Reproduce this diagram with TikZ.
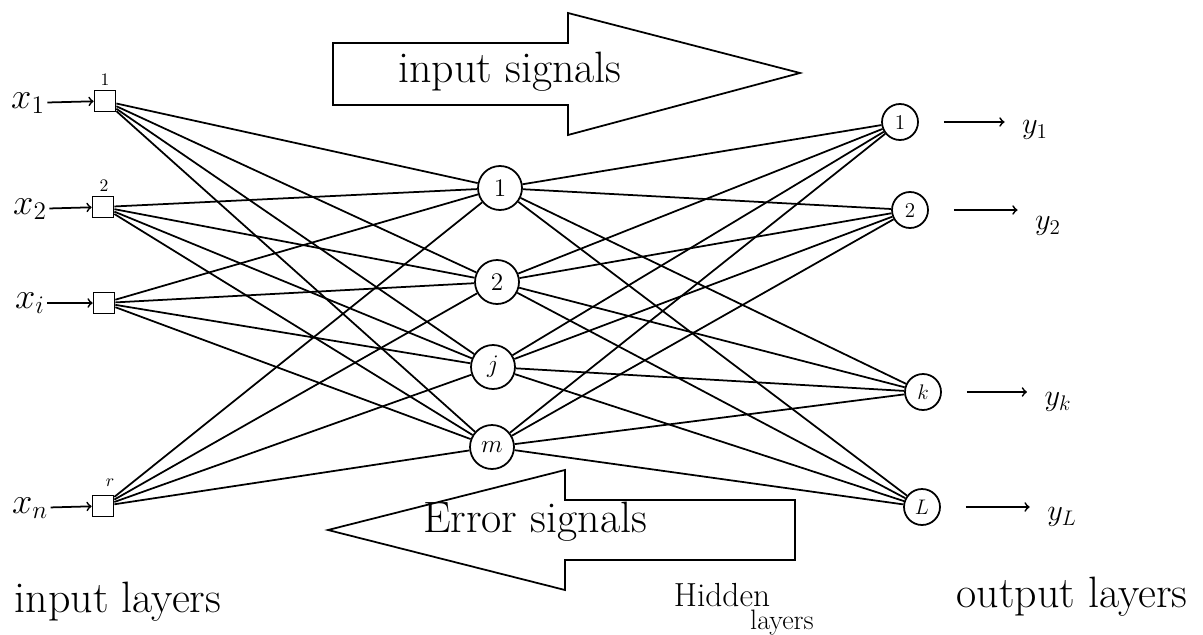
\documentclass[tikz,border=0pt]{standalone}
\usepackage{amsmath}
\usepackage{amssymb}
\usepackage{fontspec}
\usepackage{tikz}

\begin{document}
\begin{tikzpicture}[x=0.02cm, y=-0.02cm, line width=1pt,
  hid/.style={circle, draw, minimum size=8.8mm, inner sep=0pt, font=\Large},
  outn/.style={circle, draw, minimum size=7.2mm, inner sep=0pt, font=\large},
  inbox/.style={rectangle, draw, minimum size=4.2mm, inner sep=0pt},
  lbl/.style={inner sep=1pt, font=\LARGE},
  big/.style={inner sep=1pt, font=\fontsize{25}{30}\selectfont},
  outarr/.style={->, shorten <=5mm, shorten >=3mm}]
  \useasboundingbox (0,0) rectangle (1203,635);

  % big arrows
  \draw (333,43) -- (568,43) -- (568,13) -- (800,73) -- (568,135) -- (568,105) -- (333,105) -- cycle;
  \draw (795,500) -- (565,500) -- (565,470) -- (328,530) -- (565,590) -- (565,560) -- (795,560) -- cycle;
  \node[big] (sigin) at (510,72) {input signals};
  \node[big] (sigerr) at (535,522) {Error signals};

  \node[inbox] (i1) at (105,101) {};
  \node[inbox] (i2) at (103,207) {};
  \node[inbox] (ii) at (104,303) {};
  \node[inbox] (ir) at (103,506) {};
  \node[lbl, font=\huge] (x1) at (28,103) {$x_1$};
  \node[lbl, font=\huge] (x2) at (30,209) {$x_2$};
  \node[lbl, font=\huge] (xi) at (30,303) {$x_i$};
  \node[lbl, font=\huge] (xn) at (30,508) {$x_n$};
  \node[lbl, font=\normalsize] (s1) at (105,80) {1};
  \node[lbl, font=\normalsize] (s2) at (104,186) {2};
  \node[lbl, font=\normalsize] (sr) at (110,483) {$r$};

  \node[hid] (h1) at (500,188) {1};
  \node[hid] (h2) at (497,282) {2};
  \node[hid] (hj) at (493,367) {$j$};
  \node[hid] (hm) at (492,447) {$m$};

  \node[outn] (o1) at (900,122) {1};
  \node[outn] (o2) at (910,210) {2};
  \node[outn] (ok) at (923,392) {$k$};
  \node[outn] (oL) at (922,507) {$L$};
  \node[lbl] (y1) at (1035,130) {$y_1$};
  \node[lbl] (y2) at (1048,226) {$y_2$};
  \node[lbl] (yk) at (1058,402) {$y_k$};
  \node[lbl] (yL) at (1062,517) {$y_L$};

  \draw[->] (x1) -- (i1); \draw[->] (x2) -- (i2); \draw[->] (xi) -- (ii); \draw[->] (xn) -- (ir);
  \draw[outarr] (o1) -- (o1 -| y1.west); \draw[outarr] (o2) -- (o2 -| y2.west);
  \draw[outarr] (ok) -- (ok -| yk.west); \draw[outarr] (oL) -- (oL -| yL.west);

  \draw (i1) -- (h1); \draw (i1) -- (h2); \draw (i1) -- (hj); \draw (i1) -- (hm);
  \draw (i2) -- (h1); \draw (i2) -- (h2); \draw (i2) -- (hj); \draw (i2) -- (hm);
  \draw (ii) -- (h1); \draw (ii) -- (h2); \draw (ii) -- (hj); \draw (ii) -- (hm);
  \draw (ir) -- (h1); \draw (ir) -- (h2); \draw (ir) -- (hj); \draw (ir) -- (hm);
  \draw (h1) -- (o1); \draw (h1) -- (o2); \draw (h1) -- (ok); \draw (h1) -- (oL);
  \draw (h2) -- (o1); \draw (h2) -- (o2); \draw (h2) -- (ok); \draw (h2) -- (oL);
  \draw (hj) -- (o1); \draw (hj) -- (o2); \draw (hj) -- (ok); \draw (hj) -- (oL);
  \draw (hm) -- (o1); \draw (hm) -- (o2); \draw (hm) -- (ok); \draw (hm) -- (oL);

  \node[big] (inlay) at (118,602) {input layers};
  \node[lbl, font=\fontsize{19}{23}\selectfont] (hidlay) at (722,595) {Hidden};
  \node[lbl, font=\fontsize{16}{19}\selectfont] (hidlay2) at (782,623) {layers};
  \node[big] (outlay) at (1072,597) {output layers};
\end{tikzpicture}
\end{document}
